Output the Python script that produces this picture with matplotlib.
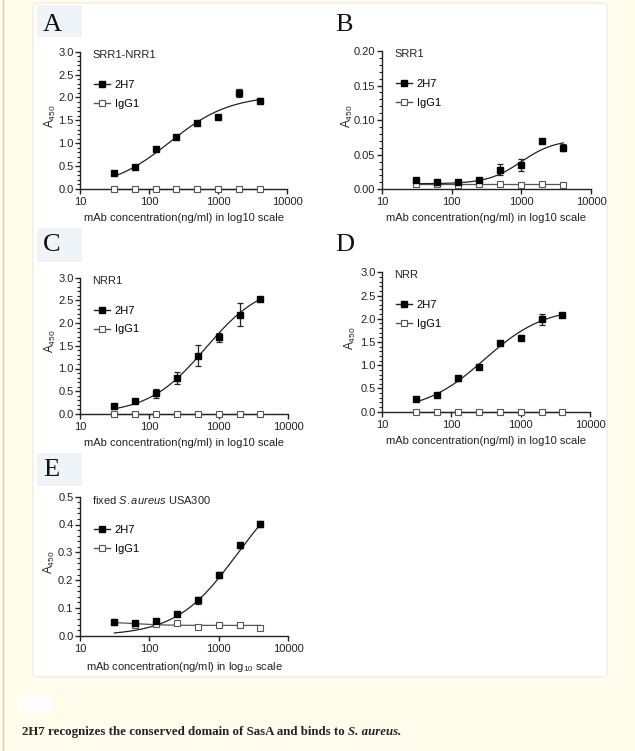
import numpy as np
import matplotlib
matplotlib.use("Agg")
import matplotlib.pyplot as plt
import matplotlib.transforms as mtransforms
from matplotlib.patches import FancyBboxPatch, Rectangle
from matplotlib.lines import Line2D
from matplotlib.ticker import MultipleLocator, FormatStrFormatter, FixedLocator, NullLocator

plt.rcParams['font.family'] = ['Liberation Sans', 'DejaVu Sans']
plt.rcParams['mathtext.fontset'] = 'custom'
plt.rcParams['mathtext.rm'] = 'Liberation Sans'
plt.rcParams['mathtext.it'] = 'Liberation Sans:italic'

# ---------------- data ----------------
conc = [31.25, 62.5, 125, 250, 500, 1000, 2000, 4000]

panel_letters = ["A", "B", "C", "D", "E"]
panel_titles = ["SRR1-NRR1", "SRR1", "NRR1", "NRR", r"fixed $\it{S.aureus}$ USA300"]

h2h7_A = [0.35, 0.49, 0.88, 1.14, 1.45, 1.57, 2.10, 1.93]
h2h7_A_err = [0.02, 0.02, 0.03, 0.03, 0.03, 0.03, 0.08, 0.05]
igg1_A = [0.0, 0.0, 0.0, 0.0, 0.0, 0.0, 0.0, 0.0]

h2h7_B = [0.013, 0.011, 0.010, 0.013, 0.028, 0.035, 0.070, 0.060]
h2h7_B_err = [0.002, 0.002, 0.001, 0.002, 0.008, 0.009, 0.002, 0.005]
igg1_B = [0.007, 0.007, 0.006, 0.007, 0.008, 0.006, 0.007, 0.006]

h2h7_C = [0.18, 0.29, 0.46, 0.79, 1.28, 1.69, 2.18, 2.52]
h2h7_C_err = [0.03, 0.04, 0.10, 0.13, 0.23, 0.10, 0.25, 0.04]
igg1_C = [0.0, 0.0, 0.0, 0.0, 0.0, 0.0, 0.0, 0.0]

h2h7_D = [0.28, 0.35, 0.72, 0.96, 1.48, 1.59, 1.99, 2.09]
h2h7_D_err = [0.03, 0.03, 0.05, 0.03, 0.03, 0.03, 0.12, 0.04]
igg1_D = [0.0, 0.0, 0.0, 0.0, 0.0, 0.0, 0.0, 0.0]

h2h7_E = [0.048, 0.045, 0.052, 0.077, 0.127, 0.218, 0.325, 0.402]
h2h7_E_err = [0.004, 0.004, 0.006, 0.005, 0.012, 0.010, 0.010, 0.010]
igg1_E = [0.048, 0.038, 0.042, 0.045, 0.033, 0.040, 0.040, 0.028]

# fitted 4PL parameters (low asymptote, high asymptote, EC50, hill)
fit_2h7 = [(0.0, 2.05, 200, 1.0), (0.008, 0.072, 1000, 1.8), (0.0, 2.9, 650, 1.05),
           (0.0, 2.25, 300, 1.0), (0.0, 0.58, 1800, 1.0)]
fit_igg1 = [(0.0, 0.0, 100, 1.0), (0.007, 0.007, 100, 1.0), (0.0, 0.0, 100, 1.0),
            (0.0, 0.0, 100, 1.0), (0.050, 0.037, 60, 2.0)]

ylims = [3.0, 0.20, 3.0, 3.0, 0.5]
ymajor = [0.5, 0.05, 0.5, 0.5, 0.1]
yminor = [0.1, 0.01, 0.1, 0.1, 0.02]
yfmt = ["%.1f", "%.2f", "%.1f", "%.1f", "%.1f"]
xticks = [10, 100, 1000, 10000]
xtick_labels = ["10", "100", "1000", "10000"]
xlabels = ["mAb concentration(ng/ml) in log10 scale"] * 4 + \
          [r"mAb concentration(ng/ml) in log$_{\mathregular{10}}$ scale"]
legend_labels = ["2H7", "IgG1"]
caption = "2H7 recognizes the conserved domain of SasA and binds to "
caption_it = "S. aureus."

# --------------- layout ---------------
W, H = 635, 751
fig = plt.figure(figsize=(W / 100, H / 100), dpi=100)
fig.patch.set_facecolor('#fffcec')
T = mtransforms.Affine2D().scale(1 / W, 1 / H) + fig.transFigure  # pixels, y up

def P(y):
    return H - y

FS = 8
TXT = '#222222'

# left tan border
fig.add_artist(Line2D([3, 3], [0, H], transform=T, color='#d8c9b2', lw=1.0, zorder=-20))
# white card
fig.add_artist(FancyBboxPatch((33, P(677)), 574, 674, boxstyle="round,pad=0,rounding_size=5",
                              transform=T, facecolor='white', edgecolor='#eeeae0', lw=0.8,
                              zorder=-20))
# blurred white blob
fig.add_artist(FancyBboxPatch((17, P(712)), 36, 17, boxstyle="round,pad=0,rounding_size=4",
                              transform=T, facecolor='white', edgecolor='none', alpha=0.85,
                              zorder=-20))

boxes = {"A": (37, 5, 82, 37), "C": (37, 228, 82, 262), "E": (37, 453, 82, 486)}
letter_pos = {"A": (43, 31), "B": (335, 31), "C": (43, 251), "D": (335, 251), "E": (43, 476)}
for L, (x0, y0, x1, y1) in boxes.items():
    fig.add_artist(Rectangle((x0, P(y1)), x1 - x0, y1 - y0, transform=T,
                             facecolor='#eef4f8', edgecolor='none', zorder=-15))

axes_px = [(80, 51.7, 287, 189), (382, 51, 591, 189.3), (80, 277.5, 288, 414),
           (382, 272.3, 590, 411.7), (80, 496.7, 288, 635.7)]
ylabel_off = [30, 35, 30, 32, 31]

h2h7_vals = [h2h7_A, h2h7_B, h2h7_C, h2h7_D, h2h7_E]
h2h7_errs = [h2h7_A_err, h2h7_B_err, h2h7_C_err, h2h7_D_err, h2h7_E_err]
igg1_vals = [igg1_A, igg1_B, igg1_C, igg1_D, igg1_E]

def fourpl(x, p):
    lo, hi, ec, h = p
    return hi + (lo - hi) / (1 + (x / ec) ** h)

xs = np.logspace(np.log10(conc[0]), np.log10(conc[-1]), 200)
ms = 4.4
for i in range(5):
    l, t, r, b = axes_px[i]
    w, h = r - l, b - t
    ax = fig.add_axes([l / W, (H - b) / H, w / W, h / H])
    ax.patch.set_alpha(0)
    ax.set_xscale('log')
    ax.set_xlim(10, 10000)
    ax.set_ylim(0, ylims[i])
    for s in ['top', 'right']:
        ax.spines[s].set_visible(False)
    for s in ['left', 'bottom']:
        ax.spines[s].set_linewidth(1.0)
        ax.spines[s].set_color(TXT)
    ax.xaxis.set_major_locator(FixedLocator(xticks))
    ax.set_xticklabels(xtick_labels)
    ax.xaxis.set_minor_locator(NullLocator())
    ax.yaxis.set_major_locator(MultipleLocator(ymajor[i]))
    ax.yaxis.set_minor_locator(MultipleLocator(yminor[i]))
    ax.yaxis.set_major_formatter(FormatStrFormatter(yfmt[i]))
    ax.tick_params(axis='both', which='major', direction='out', length=3.5, width=1.0,
                   labelsize=FS, pad=1.2, color=TXT, labelcolor=TXT)
    ax.tick_params(axis='x', which='major', pad=2.2)
    ax.tick_params(axis='y', which='minor', direction='out', length=2, width=0.8, color=TXT)

    # fits
    ax.plot(xs, fourpl(xs, fit_igg1[i]), color='#555555', lw=0.9, zorder=2, clip_on=False)
    ax.plot(xs, fourpl(xs, fit_2h7[i]), color=TXT, lw=0.9, zorder=2, clip_on=False)
    # data
    ax.plot(conc, igg1_vals[i], linestyle='none', marker='s', ms=ms, mfc='white',
            mec='#555555', mew=0.8, zorder=3, clip_on=False)
    ax.errorbar(conc, h2h7_vals[i], yerr=h2h7_errs[i], fmt='s', ms=ms, mfc='black',
                mec='black', ecolor=TXT, elinewidth=0.9, capsize=2.2, capthick=0.9,
                zorder=4, clip_on=False)

    ax.text(12 / w, 1 - 3 / h, panel_titles[i], transform=ax.transAxes,
            fontsize=FS, ha='left', va='center', color=TXT)
    hnd = [Line2D([], [], color=TXT, lw=1.0, marker='s', ms=ms, mfc='black', mec='black'),
           Line2D([], [], color='#555555', lw=1.0, marker='s', ms=ms, mfc='white',
                  mec='#555555', mew=0.8)]
    ax.legend(hnd, legend_labels, loc='upper left', bbox_to_anchor=(14 / w, 1 - 28 / h),
              frameon=False, fontsize=FS, handlelength=1.45, handletextpad=0.4,
              labelspacing=0.8, borderpad=0, borderaxespad=0)
    ax.set_ylabel(r"A$_{\mathregular{450}}$", fontsize=8.5, color=TXT, va='center')
    ax.yaxis.set_label_coords(-ylabel_off[i] / w, 0.53)
    ax.set_xlabel(xlabels[i], fontsize=FS, labelpad=4.5, color=TXT)

for L, (x, y) in letter_pos.items():
    fig.text(x, P(y), L, transform=T, family='Liberation Serif', fontsize=19,
             ha='left', va='baseline', color='#111111')

t1 = fig.text(22, P(735), caption, transform=T, family='Liberation Serif', fontsize=9.3,
              fontweight='bold', ha='left', va='baseline', color=TXT)
fig.canvas.draw()
bb = t1.get_window_extent()
fig.text(bb.x1 / W, P(735) / H, caption_it, family='Liberation Serif', fontsize=9.3,
         fontweight='bold', style='italic', ha='left', va='baseline', color=TXT)

fig.savefig("out.png", dpi=100, facecolor=fig.get_facecolor())
